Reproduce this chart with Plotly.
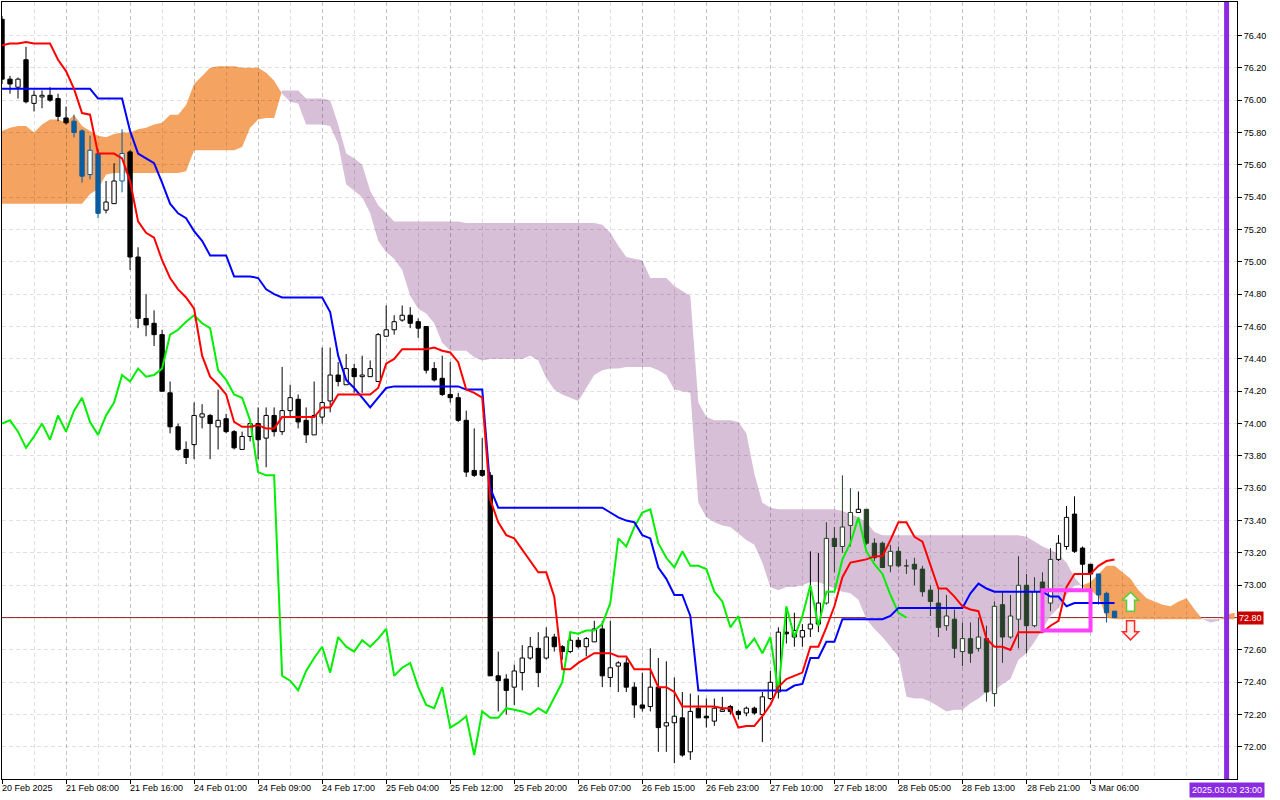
import plotly.graph_objects as go

# hourly bars, index 0 = first bar at the left edge (20 Feb 2025)
open_ = [
    76.50, 76.13, 76.08, 76.25, 75.98, 76.02, 76.03, 76.01, 75.89, 75.87,
    75.81, 75.54, 75.67, 75.32, 75.36, 75.50, 75.68, 75.03, 74.65, 74.62,
    74.55, 74.19, 73.98, 73.84, 73.87, 74.04, 74.05, 73.98, 74.03, 73.95,
    73.84, 73.92, 74.00, 73.91, 74.05, 73.95, 74.08, 74.15, 74.02, 73.93,
    74.04, 74.14, 74.30, 74.24, 74.34, 74.29, 74.29, 74.26, 74.54, 74.58,
    74.64, 74.67, 74.63, 74.60, 74.34, 74.28, 74.18, 74.16, 74.02, 73.71,
    73.71, 73.68, 72.44, 72.42, 72.37, 72.46, 72.55, 72.61, 72.55, 72.68,
    72.62, 72.59, 72.66, 72.62, 72.65, 72.73, 72.43, 72.50, 72.52, 72.37,
    72.26, 72.25, 72.37, 72.13, 72.15, 72.18, 71.97, 72.24, 72.19, 72.16,
    72.22, 72.25, 72.22, 72.21, 72.24, 72.20, 72.30, 72.34, 72.71, 72.68,
    72.68, 72.73, 72.76, 72.89, 73.29, 73.24, 73.37, 73.45, 73.47, 73.26,
    73.26, 73.12, 73.21, 73.12, 73.13, 73.10, 72.97, 72.89, 72.75, 72.79,
    72.59, 72.67, 72.61, 72.67, 72.33, 72.88, 72.68, 72.79, 73.00, 72.75,
    73.02, 72.89, 73.16, 73.24, 73.44, 73.23, 73.13, 73.07, 72.95, 72.84,
]
high = [
    76.52, 76.15, 76.14, 76.33, 76.06, 76.06, 76.08, 76.04, 75.96, 75.91,
    75.82, 75.78, 75.70, 75.50, 75.61, 75.82, 75.69, 75.09, 74.80, 74.70,
    74.58, 74.26, 74.00, 73.89, 74.13, 74.12, 74.06, 74.21, 74.06, 73.96,
    73.95, 74.02, 74.10, 74.10, 74.10, 74.35, 74.24, 74.18, 74.10, 74.26,
    74.47, 74.47, 74.38, 74.43, 74.37, 74.42, 74.39, 74.56, 74.73, 74.67,
    74.73, 74.72, 74.65, 74.60, 74.38, 74.42, 74.38, 74.19, 74.08, 73.97,
    73.91, 73.70, 72.59, 72.45, 72.51, 72.63, 72.68, 72.71, 72.74, 72.70,
    72.63, 72.71, 72.68, 72.68, 72.78, 72.78, 72.78, 72.53, 72.55, 72.40,
    72.46, 72.61, 72.55, 72.53, 72.43, 72.34, 72.33, 72.32, 72.30, 72.30,
    72.31, 72.26, 72.23, 72.25, 72.25, 72.34, 72.47, 72.74, 72.85, 72.83,
    72.76, 73.21, 73.20, 73.39, 73.36, 73.68, 73.60, 73.58, 73.47, 73.29,
    73.27, 73.25, 73.24, 73.16, 73.17, 73.12, 73.00, 72.99, 72.94, 72.85,
    72.77, 72.77, 72.80, 72.75, 72.90, 72.96, 72.94, 73.18, 73.07, 73.05,
    73.08, 73.23, 73.31, 73.49, 73.55, 73.24, 73.13, 73.07, 72.96, 72.84,
]
low = [
    76.10, 76.04, 76.01, 75.98, 75.93, 75.95, 75.99, 75.87, 75.85, 75.77,
    75.49, 75.51, 75.27, 75.30, 75.36, 75.43, 74.95, 74.59, 74.54, 74.48,
    74.20, 73.94, 73.83, 73.75, 73.78, 73.97, 73.78, 73.84, 73.94, 73.84,
    73.84, 73.89, 73.78, 73.73, 73.92, 73.93, 74.04, 73.97, 73.88, 73.93,
    74.00, 74.07, 74.23, 74.24, 74.19, 74.19, 74.29, 74.26, 74.54, 74.55,
    74.63, 74.59, 74.53, 74.31, 74.26, 74.17, 74.13, 74.01, 73.67, 73.67,
    73.67, 72.44, 72.22, 72.20, 72.26, 72.35, 72.54, 72.37, 72.54, 72.59,
    72.54, 72.58, 72.61, 72.56, 72.65, 72.37, 72.37, 72.34, 72.34, 72.18,
    72.22, 72.22, 71.97, 71.97, 71.90, 71.94, 71.92, 72.18, 72.12, 72.13,
    72.22, 72.20, 72.17, 72.19, 72.20, 72.03, 72.29, 72.30, 72.64, 72.62,
    72.62, 72.68, 72.71, 72.88, 73.08, 73.20, 73.24, 73.45, 73.25, 73.15,
    73.11, 73.08, 73.11, 73.07, 73.00, 72.93, 72.81, 72.68, 72.72, 72.55,
    72.50, 72.52, 72.59, 72.28, 72.25, 72.52, 72.67, 72.61, 72.58, 72.74,
    72.75, 72.84, 73.15, 73.22, 73.20, 72.97, 72.98, 72.88, 72.77, 72.80,
]
close_ = [
    76.13, 76.10, 76.13, 75.99, 76.03, 76.03, 76.00, 75.90, 75.86, 75.80,
    75.53, 75.69, 75.30, 75.37, 75.50, 75.67, 75.03, 74.65, 74.61, 74.55,
    74.20, 73.98, 73.84, 73.79, 74.05, 74.06, 74.00, 74.02, 73.95, 73.85,
    73.92, 74.00, 73.90, 74.05, 73.95, 74.08, 74.16, 74.01, 73.93, 74.05,
    74.13, 74.30, 74.26, 74.34, 74.29, 74.30, 74.34, 74.55, 74.58, 74.63,
    74.67, 74.62, 74.59, 74.33, 74.27, 74.18, 74.16, 74.02, 73.70, 73.68,
    73.68, 72.44, 72.41, 72.35, 72.47, 72.55, 72.62, 72.46, 72.68, 72.62,
    72.59, 72.66, 72.62, 72.67, 72.73, 72.44, 72.49, 72.52, 72.37, 72.26,
    72.24, 72.37, 72.12, 72.15, 72.19, 71.95, 72.22, 72.18, 72.18, 72.24,
    72.23, 72.22, 72.20, 72.24, 72.21, 72.31, 72.40, 72.71, 72.70, 72.72,
    72.72, 72.76, 72.89, 73.29, 73.24, 73.36, 73.45, 73.47, 73.26, 73.17,
    73.11, 73.21, 73.12, 73.12, 73.10, 72.96, 72.90, 72.74, 72.81, 72.61,
    72.67, 72.58, 72.68, 72.34, 72.87, 72.68, 72.81, 73.00, 72.75, 72.96,
    72.96, 73.16, 73.26, 73.42, 73.21, 73.13, 73.07, 72.94, 72.83, 72.80,
]

# Tenkan-sen (red) and Kijun-sen (blue), one value per bar
tenkan = [
    76.34, 76.35, 76.35, 76.36, 76.35, 76.35, 76.35, 76.25, 76.18, 76.07,
    75.92, 75.91, 75.67, 75.67, 75.67, 75.64, 75.50, 75.25, 75.18, 75.15,
    75.01, 74.90, 74.83, 74.78, 74.71, 74.42, 74.29, 74.24, 74.18, 74.01,
    73.98, 73.98, 73.99, 73.97, 73.97, 74.04, 74.04, 74.04, 74.04, 74.04,
    74.10, 74.10, 74.18, 74.18, 74.18, 74.18, 74.18, 74.22, 74.37, 74.40,
    74.46, 74.46, 74.46, 74.46, 74.47, 74.45, 74.44, 74.38, 74.21, 74.19,
    74.16, 73.53, 73.39, 73.31, 73.29, 73.22, 73.15, 73.08, 73.08, 72.93,
    72.48, 72.48, 72.52, 72.55, 72.58, 72.58, 72.58, 72.56, 72.56, 72.48,
    72.48, 72.48, 72.37, 72.37, 72.34, 72.25, 72.25, 72.25, 72.25, 72.25,
    72.24, 72.24, 72.12, 72.13, 72.13, 72.19, 72.26, 72.37, 72.42, 72.44,
    72.46, 72.62, 72.62, 72.74, 72.87, 73.05, 73.14, 73.15, 73.16, 73.18,
    73.18, 73.28, 73.39, 73.39, 73.30, 73.27, 73.13, 72.98, 72.98, 72.93,
    72.87, 72.85, 72.84, 72.67, 72.62, 72.62, 72.60, 72.71, 72.71, 72.71,
    72.71, 72.75, 72.78, 72.99, 73.07, 73.07, 73.07, 73.12, 73.15, 73.16,
]
kijun = [
    76.07, 76.07, 76.07, 76.07, 76.07, 76.07, 76.07, 76.07, 76.07, 76.07,
    76.07, 76.07, 76.01, 76.01, 76.01, 76.01, 75.81, 75.67, 75.64, 75.61,
    75.49, 75.36, 75.30, 75.27, 75.19, 75.13, 75.04, 75.04, 75.04, 74.91,
    74.91, 74.91, 74.90, 74.83, 74.80, 74.78, 74.78, 74.78, 74.78, 74.78,
    74.78, 74.69, 74.42, 74.27, 74.22, 74.16, 74.10, 74.16, 74.22, 74.23,
    74.23, 74.23, 74.23, 74.23, 74.23, 74.23, 74.23, 74.23, 74.21, 74.21,
    74.21, 73.60, 73.48, 73.48, 73.48, 73.48, 73.48, 73.48, 73.48, 73.48,
    73.48, 73.48, 73.48, 73.48, 73.48, 73.48, 73.45, 73.42, 73.40, 73.39,
    73.31, 73.29, 73.11, 73.04, 72.94, 72.94, 72.81, 72.35, 72.35, 72.35,
    72.35, 72.35, 72.35, 72.35, 72.35, 72.35, 72.35, 72.35, 72.35, 72.38,
    72.39, 72.55, 72.55, 72.65, 72.65, 72.79, 72.79, 72.79, 72.79, 72.79,
    72.79, 72.81, 72.86, 72.86, 72.86, 72.86, 72.86, 72.86, 72.86, 72.86,
    72.86, 72.95, 73.01, 72.98, 72.96, 72.96, 72.96, 72.96, 72.96, 72.96,
    72.96, 72.93, 72.93, 72.87, 72.89, 72.89, 72.89, 72.89, 72.89, 72.89,
]
chikou_shift = 26  # Chikou span = close plotted 26 bars back

# Senkou span A / B as drawn (already shifted 26 bars forward)
span_a = [
    75.81, 75.83, 75.84, 75.84, 75.80, 75.85, 75.88, 75.88, 75.86, 75.91,
    75.84, 75.81, 75.78, 75.77, 75.79, 75.80, 75.80, 75.82, 75.83, 75.85,
    75.86, 75.91, 75.91, 75.97, 76.10, 76.15, 76.20, 76.21, 76.21, 76.21,
    76.20, 76.20, 76.20, 76.17, 76.12, 76.04, 75.99, 75.98, 75.85, 75.85,
    75.85, 75.84, 75.73, 75.48, 75.44, 75.40, 75.30, 75.13, 75.06, 75.02,
    74.95, 74.79, 74.71, 74.68, 74.62, 74.50, 74.45, 74.45, 74.45, 74.41,
    74.39, 74.40, 74.40, 74.40, 74.40, 74.40, 74.42, 74.39, 74.28, 74.21,
    74.18, 74.16, 74.14, 74.22, 74.30, 74.33, 74.34, 74.34, 74.35, 74.35,
    74.35, 74.35, 74.33, 74.30, 74.21, 74.20, 74.19, 73.51, 73.42, 73.39,
    73.37, 73.36, 73.32, 73.28, 73.25, 73.14, 72.99, 72.97, 72.99, 72.99,
    73.00, 73.02, 73.02, 73.00, 72.98, 72.96, 72.95, 72.91, 72.79, 72.73,
    72.68, 72.62, 72.56, 72.31, 72.30, 72.30, 72.28, 72.25, 72.22, 72.23,
    72.23, 72.27, 72.30, 72.34, 72.35, 72.39, 72.42, 72.54, 72.58, 72.65,
    72.73, 72.81, 72.86, 72.94, 73.00, 73.00, 73.02, 73.07, 73.12, 73.12,
    73.08, 73.04, 72.97, 72.92, 72.90, 72.88, 72.87, 72.90, 72.92, 72.85,
    72.79, 72.77, 72.78, 72.82, 72.83,
]
span_b = [
    75.36, 75.36, 75.36, 75.36, 75.36, 75.36, 75.36, 75.36, 75.36, 75.36,
    75.36, 75.42, 75.45, 75.54, 75.55, 75.55, 75.55, 75.55, 75.55, 75.55,
    75.55, 75.55, 75.55, 75.56, 75.69, 75.69, 75.69, 75.69, 75.69, 75.69,
    75.71, 75.83, 75.88, 75.89, 75.89, 76.06, 76.06, 76.06, 76.01, 76.01,
    76.01, 76.00, 75.85, 75.67, 75.64, 75.60, 75.44, 75.35, 75.30, 75.25,
    75.25, 75.25, 75.25, 75.25, 75.25, 75.25, 75.25, 75.25, 75.24, 75.24,
    75.24, 75.24, 75.24, 75.24, 75.24, 75.24, 75.24, 75.24, 75.24, 75.24,
    75.24, 75.24, 75.24, 75.24, 75.24, 75.23, 75.18, 75.10, 75.03, 75.02,
    75.01, 74.90, 74.90, 74.90, 74.85, 74.82, 74.79, 74.13, 74.04, 74.02,
    74.02, 74.02, 74.01, 73.94, 73.69, 73.51, 73.48, 73.47, 73.47, 73.47,
    73.47, 73.47, 73.47, 73.47, 73.47, 73.46, 73.44, 73.42, 73.39, 73.33,
    73.31, 73.31, 73.31, 73.31, 73.31, 73.31, 73.31, 73.31, 73.31, 73.31,
    73.31, 73.31, 73.31, 73.31, 73.31, 73.31, 73.31, 73.31, 73.30, 73.27,
    73.24, 73.22, 73.19, 73.14, 73.05, 72.99, 72.97, 72.93, 72.80, 72.79,
    72.79, 72.79, 72.79, 72.79, 72.79, 72.79, 72.79, 72.79, 72.79, 72.79,
    72.79, 72.79, 72.79, 72.79, 72.79,
]

x_label_bars = [0, 8, 16, 24, 32, 40, 48, 56, 64, 72, 80, 88, 96, 104, 112, 120, 128, 136]
x_labels = [
    "20 Feb 2025", "21 Feb 08:00", "21 Feb 16:00", "24 Feb 01:00", "24 Feb 09:00",
    "24 Feb 17:00", "25 Feb 04:00", "25 Feb 12:00", "25 Feb 20:00", "26 Feb 07:00",
    "26 Feb 15:00", "26 Feb 23:00", "27 Feb 10:00", "27 Feb 18:00", "28 Feb 05:00",
    "28 Feb 13:00", "28 Feb 21:00", "3 Mar 06:00",
]
y_ticks = [72.00, 72.20, 72.40, 72.60, 72.80, 73.00, 73.20, 73.40, 73.60, 73.80,
           74.00, 74.20, 74.40, 74.60, 74.80, 75.00, 75.20, 75.40, 75.60, 75.80,
           76.00, 76.20, 76.40]

last_price = 72.80
cursor_bar = 153
cursor_label = "2025.03.03 23:00"
box_bars = [130, 136]
box_prices = [72.72, 72.97]
arrow_bar = 141
arrow_up_price = 72.84
arrow_down_price = 72.78

ORANGE_CLOUD = "#f4a460"
PURPLE_CLOUD = "#d8bfd8"
GRID = "rgba(0,0,0,0.12)"


def inverted(color):
    r, g, b = (int(color[k:k + 2], 16) for k in (1, 3, 5))
    return "#%02x%02x%02x" % (255 - r, 255 - g, 255 - b)


def cloud_segments(a, b):
    # split the cloud where span A and span B cross
    segments = []
    up = a[0] >= b[0]
    pts = [(0, a[0], b[0])]
    for i in range(1, len(a)):
        now_up = a[i] >= b[i]
        if now_up != up:
            d0 = a[i - 1] - b[i - 1]
            d1 = a[i] - b[i]
            t = d0 / (d0 - d1)
            xc = i - 1 + t
            yc = a[i - 1] + t * (a[i] - a[i - 1])
            pts.append((xc, yc, yc))
            segments.append((up, pts))
            pts = [(xc, yc, yc)]
            up = now_up
        pts.append((i, a[i], b[i]))
    segments.append((up, pts))
    return segments


def cloud_path(pts):
    fwd = ["%.3f,%.4f" % (x, ya) for x, ya, yb in pts]
    back = ["%.3f,%.4f" % (x, yb) for x, ya, yb in reversed(pts)]
    return "M" + " L".join(fwd + back) + " Z"


def candle_color(i):
    # candles inside the cloud show up in the inverted cloud colour
    mid = (open_[i] + close_[i]) / 2
    lo, hi = sorted((span_a[i], span_b[i]))
    if lo <= mid <= hi:
        return inverted(ORANGE_CLOUD if span_a[i] >= span_b[i] else PURPLE_CLOUD)
    return "#000000"


shapes = []
for up, pts in cloud_segments(span_a, span_b):
    shapes.append(dict(type="path", path=cloud_path(pts), xref="x", yref="y",
                       fillcolor=ORANGE_CLOUD if up else PURPLE_CLOUD,
                       line=dict(width=0), layer="below"))

shapes.append(dict(type="line", xref="paper", x0=0, x1=1, yref="y", y0=last_price, y1=last_price,
                   line=dict(color="#9a2020", width=1), layer="below"))

traces = []
groups = {}
for i in range(len(close_)):
    groups.setdefault(candle_color(i), []).append(i)

half = 0.27
for color, idx in groups.items():
    wx, wy = [], []
    for i in idx:
        wx += [i, i, None]
        wy += [low[i], high[i], None]
    traces.append(go.Scatter(x=wx, y=wy, mode="lines", line=dict(color=color, width=1),
                             hoverinfo="skip"))
    for rising in (True, False):
        bx, by = [], []
        for i in idx:
            if (close_[i] > open_[i]) != rising:
                continue
            bx += [i - half, i + half, i + half, i - half, i - half, None]
            by += [open_[i], open_[i], close_[i], close_[i], open_[i], None]
        if bx:
            traces.append(go.Scatter(x=bx, y=by, mode="lines", fill="toself",
                                     fillcolor="white" if rising else color,
                                     line=dict(color=color, width=1), hoverinfo="skip"))

bars = list(range(len(close_)))
traces.append(go.Scatter(x=bars[:len(close_) - chikou_shift], y=close_[chikou_shift:],
                         mode="lines", line=dict(color="#00ee00", width=2), hoverinfo="skip"))
traces.append(go.Scatter(x=bars, y=kijun, mode="lines", line=dict(color="#0000ff", width=2),
                         hoverinfo="skip"))
traces.append(go.Scatter(x=bars, y=tenkan, mode="lines", line=dict(color="#ff0000", width=2),
                         hoverinfo="skip"))

fig = go.Figure(data=traces)

# cursor line, marked box and the two signal arrows
shapes.append(dict(type="line", xref="x", x0=cursor_bar, x1=cursor_bar, yref="paper", y0=0, y1=1,
                   line=dict(color="#8a2be2", width=5), layer="above"))
shapes.append(dict(type="rect", xref="x", x0=box_bars[0], x1=box_bars[1], yref="y",
                   y0=box_prices[0], y1=box_prices[1], line=dict(color="#ff40ff", width=4),
                   layer="above"))
shapes.append(dict(type="path", xref="x", yref="y", xsizemode="pixel", ysizemode="pixel",
                   xanchor=arrow_bar, yanchor=arrow_up_price,
                   path="M -4,0 L -4,11 L -8,11 L 0,19 L 8,11 L 4,11 L 4,0 Z",
                   fillcolor="white", line=dict(color="#5ccf38", width=1.5), layer="above"))
shapes.append(dict(type="path", xref="x", yref="y", xsizemode="pixel", ysizemode="pixel",
                   xanchor=arrow_bar, yanchor=arrow_down_price,
                   path="M -4,0 L 4,0 L 4,-11 L 8,-11 L 0,-19 L -8,-11 L -4,-11 Z",
                   fillcolor="#fff0f0", line=dict(color="#ff2a2a", width=1.5), layer="above"))

annotations = []
for b, t in zip(x_label_bars, x_labels):
    annotations.append(dict(x=b, xref="x", y=0, yref="paper", yanchor="top", xanchor="left",
                            text=t, showarrow=False, xshift=-2, yshift=-2,
                            font=dict(size=9, color="black")))
annotations.append(dict(x=cursor_bar, xref="x", y=0, yref="paper", yanchor="top", xanchor="center",
                        text=cursor_label, showarrow=False, yshift=-3, bgcolor="#8a2be2",
                        borderpad=2, font=dict(size=9, color="white")))
annotations.append(dict(x=1, xref="paper", y=last_price, yref="y", xanchor="left", yanchor="middle",
                        text="%.2f" % last_price, showarrow=False, xshift=0, bgcolor="#c80000",
                        borderpad=1, font=dict(size=9, color="white")))

# the current price label replaces the regular tick label at that level
tick_text = ["" if abs(v - last_price) < 1e-9 else "%.2f" % v for v in y_ticks]

fig.update_layout(
    width=1280, height=800,
    margin=dict(l=2, r=43, t=2, b=21),
    paper_bgcolor="white", plot_bgcolor="white",
    showlegend=False,
    hovermode=False,
    font=dict(family="Liberation Sans, Arial, sans-serif", size=9, color="black"),
    shapes=shapes,
    annotations=annotations,
    xaxis=dict(range=[0, 154.3], tickmode="array", tickvals=x_label_bars, showticklabels=False,
               ticks="outside", ticklen=4, tickcolor="black",
               showgrid=True, gridcolor=GRID, griddash="4px,3px", gridwidth=1,
               minor=dict(tickmode="linear", tick0=0, dtick=4, showgrid=True,
                          gridcolor=GRID, griddash="4px,3px", ticks=""),
               showline=True, linecolor="black", linewidth=1, mirror=True,
               zeroline=False, automargin=False),
    yaxis=dict(range=[71.802, 76.607], side="right", tickmode="array", tickvals=y_ticks,
               ticktext=tick_text,
               ticks="outside", ticklen=4, tickcolor="black",
               showgrid=True, gridcolor=GRID, griddash="4px,3px", gridwidth=1,
               showline=True, linecolor="black", linewidth=1, mirror=True,
               zeroline=False, automargin=False),
)

fig.write_html("out.html", config={"displayModeBar": False, "staticPlot": True},
               post_script="document.body.style.margin='0';document.body.style.overflow='hidden';")
